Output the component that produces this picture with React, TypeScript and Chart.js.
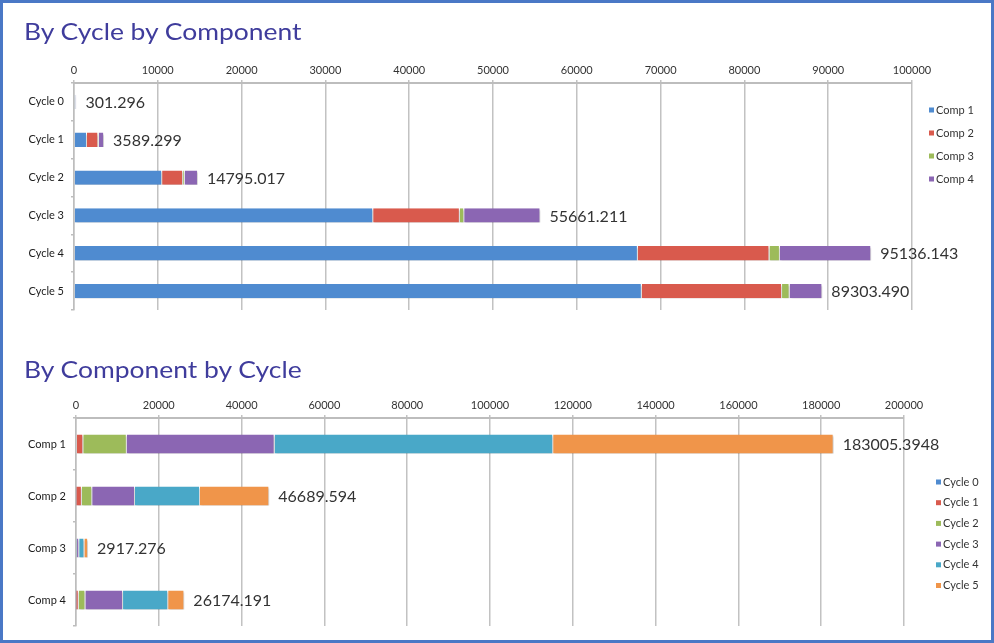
import React, { useEffect, useRef } from "react";
import { Chart, registerables } from "chart.js";

Chart.register(...registerables);

// ---------- data ----------
const cycles = ["Cycle 0", "Cycle 1", "Cycle 2", "Cycle 3", "Cycle 4", "Cycle 5"];
const comps = ["Comp 1", "Comp 2", "Comp 3", "Comp 4"];

// value of each component in each cycle (index = cycle)
const comp1ByCycle = [201.296, 1550, 10515.017, 35700, 67286.143, 67752.9388];
const comp2ByCycle = [60, 1350, 2500, 10341.211, 15700, 16738.383];
const comp3ByCycle = [10, 60, 180, 520, 1250, 897.276];
const comp4ByCycle = [30, 629.299, 1600, 9100, 10900, 3914.892];

const cycleTotalLabels = ["301.296", "3589.299", "14795.017", "55661.211", "95136.143", "89303.490"];
const compTotalLabels = ["183005.3948", "46689.594", "2917.276", "26174.191"];

const cycleChartTicks = [0, 10000, 20000, 30000, 40000, 50000, 60000, 70000, 80000, 90000, 100000];
const compChartTicks = [0, 20000, 40000, 60000, 80000, 100000, 120000, 140000, 160000, 180000, 200000];

const compColors = ["#4f8bd0", "#d95a4d", "#9dbb5a", "#8b66b3"];
const cycleColors = ["#4f8bd0", "#d95a4d", "#9dbb5a", "#8b66b3", "#49a8c8", "#f0954a"];

const FONT = "Lato, 'DejaVu Sans', sans-serif";

// ---------- plugins ----------
const shadowPlugin = {
  id: "barShadow",
  beforeDatasetDraw(chart: any) {
    const ctx = chart.ctx;
    ctx.save();
    ctx.shadowColor = "rgba(0,0,0,0.22)";
    ctx.shadowOffsetY = 2;
    ctx.shadowOffsetX = 1;
    ctx.shadowBlur = 2;
  },
  afterDatasetDraw(chart: any) {
    chart.ctx.restore();
  },
};

const totalsPlugin = {
  id: "totals",
  afterDatasetsDraw(chart: any, _args: any, opts: any) {
    const ctx = chart.ctx;
    const xs = chart.scales.x;
    const ys = chart.scales.y;
    ctx.save();
    ctx.font = `16px ${FONT}`;
    ctx.fillStyle = "#333";
    ctx.textBaseline = "middle";
    ctx.textAlign = "left";
    chart.data.labels.forEach((_: any, i: number) => {
      const total = chart.data.datasets.reduce((s: number, d: any) => s + d.data[i], 0);
      ctx.fillText(opts.labels[i], xs.getPixelForValue(total) + opts.offset, ys.getPixelForValue(i) + 1);
    });
    ctx.restore();
  },
};

const sideLegendPlugin = {
  id: "sideLegend",
  afterDraw(chart: any, _args: any, opts: any) {
    const ctx = chart.ctx;
    ctx.save();
    ctx.font = `11px ${FONT}`;
    ctx.textBaseline = "middle";
    ctx.textAlign = "left";
    chart.data.datasets.forEach((d: any, i: number) => {
      const y = opts.y + i * opts.gap;
      ctx.fillStyle = d.backgroundColor;
      ctx.fillRect(opts.x, y - 2.5, 5, 5);
      ctx.fillStyle = "#333";
      ctx.fillText(d.label, opts.x + 7, y);
    });
    ctx.restore();
  },
};

function makeOptions(ticks: number[], yWidth: number, xHeight: number, padding: any, legend: any, totals: any) {
  return {
    animation: false,
    responsive: false,
    indexAxis: "y",
    layout: { padding },
    plugins: {
      legend: { display: false },
      tooltip: { enabled: false },
      totals,
      sideLegend: legend,
    },
    scales: {
      x: {
        type: "linear",
        position: "top",
        stacked: true,
        min: ticks[0],
        max: ticks[ticks.length - 1],
        afterBuildTicks: (scale: any) => {
          scale.ticks = ticks.map((v) => ({ value: v }));
        },
        afterFit: (scale: any) => {
          scale.height = xHeight;
        },
        grid: { color: "#c2c2c2", lineWidth: 1.5, tickLength: 3 },
        border: { color: "#bdbdbd", width: 2 },
        ticks: {
          font: { family: FONT, size: 11 },
          color: "#333",
          padding: 3,
          maxRotation: 0,
          autoSkip: false,
          callback: (v: any) => String(v),
        },
      },
      y: {
        stacked: true,
        afterFit: (scale: any) => {
          scale.width = yWidth;
        },
        grid: { drawOnChartArea: false, color: "#bdbdbd", tickLength: 3, lineWidth: 1.5 },
        border: { color: "#bdbdbd", width: 1.5 },
        ticks: { font: { family: FONT, size: 11 }, color: "#1a1a1a", padding: 7 },
      },
    },
  };
}

function ChartCanvas({ config, width, height, top }: any) {
  const ref = useRef<HTMLCanvasElement>(null);
  useEffect(() => {
    if (!ref.current) return;
    const chart = new Chart(ref.current, config);
    return () => chart.destroy();
  }, []);
  return (
    <canvas
      ref={ref}
      width={width}
      height={height}
      style={{ position: "absolute", left: 0, top, width, height }}
    />
  );
}

export default function App() {
  const compSeries = [comp1ByCycle, comp2ByCycle, comp3ByCycle, comp4ByCycle];

  const config1: any = {
    type: "bar",
    data: {
      labels: cycles,
      datasets: comps.map((c, k) => ({
        label: c,
        data: compSeries[k],
        backgroundColor: compColors[k],
        borderColor: "rgba(255,255,255,0.85)",
        borderWidth: { top: 0, right: 1, bottom: 0, left: 0 },
        borderSkipped: false,
        categoryPercentage: 1,
        barPercentage: 0.38,
      })),
    },
    options: makeOptions(
      cycleChartTicks,
      74,
      33,
      { top: 50, right: 82, bottom: 20, left: 0 },
      { x: 929, y: 110, gap: 23 },
      { labels: cycleTotalLabels, offset: 9 }
    ),
    plugins: [shadowPlugin, totalsPlugin, sideLegendPlugin],
  };

  const config2: any = {
    type: "bar",
    data: {
      labels: comps,
      datasets: cycles.map((c, k) => ({
        label: c,
        data: compSeries.map((s) => s[k]),
        backgroundColor: cycleColors[k],
        borderColor: "rgba(255,255,255,0.85)",
        borderWidth: { top: 0, right: 1, bottom: 0, left: 0 },
        borderSkipped: false,
        categoryPercentage: 1,
        barPercentage: 0.37,
      })),
    },
    options: makeOptions(
      compChartTicks,
      76,
      33,
      { top: 55, right: 90, bottom: 17, left: 0 },
      { x: 936, y: 152, gap: 20.7 },
      { labels: compTotalLabels, offset: 9 }
    ),
    plugins: [shadowPlugin, totalsPlugin, sideLegendPlugin],
  };

  const titleStyle: any = {
    position: "absolute",
    left: 24,
    fontFamily: FONT,
    fontSize: 23,
    color: "#3f3c9c",
    whiteSpace: "nowrap",
    transform: "scaleX(1.15)",
    transformOrigin: "left top",
    lineHeight: "28px",
  };

  return (
    <div
      style={{
        position: "fixed",
        left: 0,
        top: 0,
        width: 994,
        height: 643,
        background: "#fff",
        overflow: "hidden",
      }}
    >
      <ChartCanvas config={config1} width={994} height={330} top={0} />
      <ChartCanvas config={config2} width={994} height={313} top={330} />
      <div style={{ ...titleStyle, top: 17 }}>By Cycle by Component</div>
      <div style={{ ...titleStyle, top: 355 }}>By Component by Cycle</div>
      <div
        style={{
          position: "absolute",
          left: 0,
          top: 0,
          width: 994,
          height: 643,
          boxSizing: "border-box",
          border: "3px solid #4a78c6",
          pointerEvents: "none",
        }}
      />
    </div>
  );
}
